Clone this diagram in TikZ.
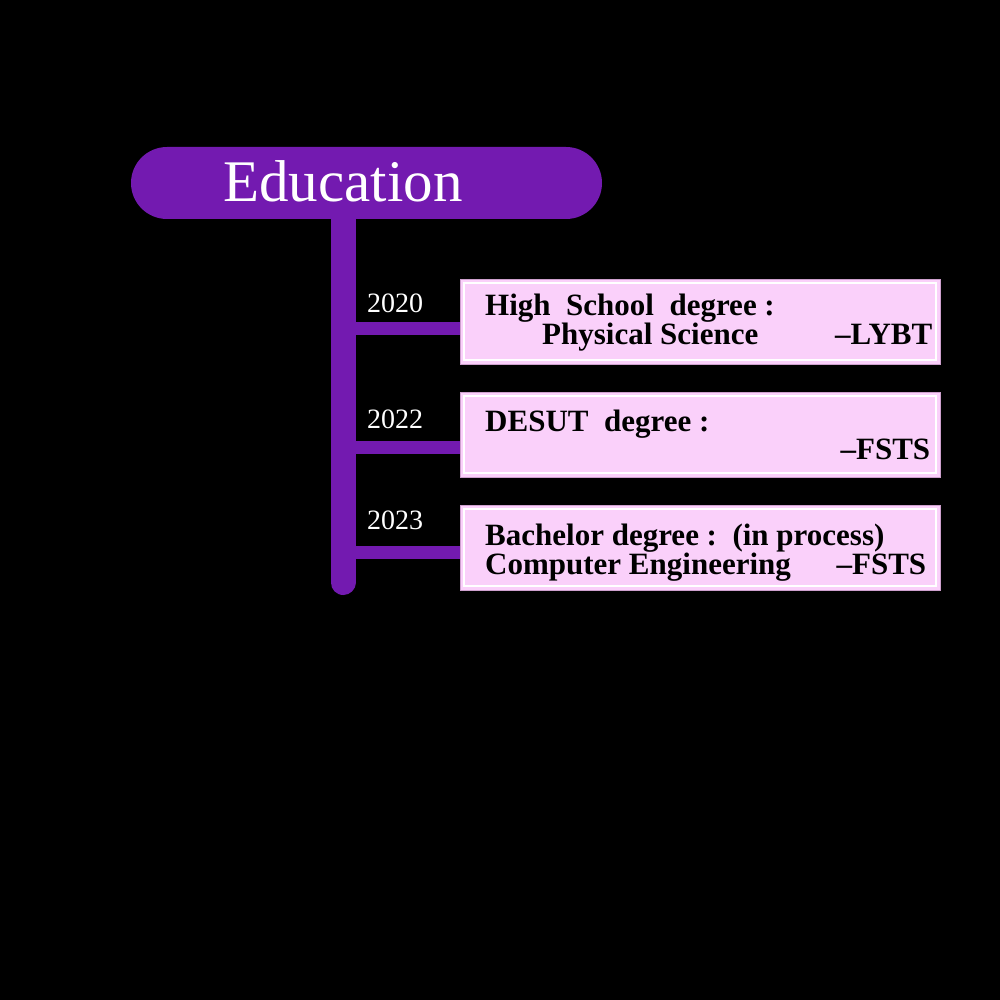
\documentclass[tikz,border=0pt]{standalone}
\usepackage{fontspec}
\setmainfont{Liberation Serif}
\definecolor{edupurple}{RGB}{115,26,176}
\definecolor{edupink}{RGB}{250,208,250}
\definecolor{edurim}{RGB}{205,160,205}
\begin{document}
\begin{tikzpicture}[x=1pt,y=-1pt,
  pill/.style={fill=edupurple, rounded corners=36pt, minimum width=471pt, minimum height=72pt, inner sep=0pt},
  entrybox/.style={fill=edupink, draw=edurim, line width=0.8pt, minimum width=480pt, minimum height=85pt, inner sep=0pt},
  spine/.style={edupurple, line width=25pt, line cap=round},
  branch/.style={edupurple, line width=13pt},
  yeartext/.style={text=white, anchor=base west, inner sep=0pt, font=\fontsize{28}{28}\selectfont},
  boxtext/.style={text=black, inner sep=0pt, align=left, anchor=base west, font=\bfseries\fontsize{31}{27}\selectfont},
  innerline/.style={white, line width=2pt}]
\fill[black] (0,0) rectangle (1000,1000);
\useasboundingbox (0,0) rectangle (1000,1000);
% spine
\coordinate (top) at (343,200);
\coordinate (bot) at (343,582.5);
\draw[spine] (top) -- (bot);
% header
\node[pill] (edu) at (366.5,183) {};
\node[text=white, anchor=base, inner sep=0pt, font=\fontsize{59}{59}\selectfont] (edut) at (343,202) {Education};
% boxes
\node[entrybox] (b1) at (700,321.5) {};
\node[entrybox] (b2) at (700,434.5) {};
\node[entrybox] (b3) at (700,547.5) {};
\foreach \b in {b1,b2,b3}{
  \draw[innerline] ([shift={(4pt,-4pt)}]\b.north west) rectangle ([shift={(-4pt,4pt)}]\b.south east);
}
% branches
\coordinate (s1) at (343,328);
\coordinate (s2) at (343,447);
\coordinate (s3) at (343,552);
\draw[branch] (s1) -- (s1 -| b1.west);
\draw[branch] (s2) -- (s2 -| b2.west);
\draw[branch] (s3) -- (s3 -| b3.west);
% years
\node[yeartext] (y1) at (367,312) {2020};
\node[yeartext] (y2) at (367,428) {2022};
\node[yeartext] (y3) at (367,529) {2023};
% box texts
\node[boxtext, text width=447pt] (t1) at (485,315) {\spaceskip=0pt\xspaceskip=0pt\relax\mbox{High\ \ School\ \ degree :}\\\mbox{\hspace*{57pt}Physical Science}\hfill\mbox{\textendash LYBT}};
\node[boxtext, text width=445pt] (t2) at (485,431) {\spaceskip=0pt\xspaceskip=0pt\relax\mbox{DESUT\ \ degree :}\\\mbox{}\hfill\mbox{\textendash FSTS}};
\node[boxtext, text width=441pt] (t3) at (485,545) {\spaceskip=0pt\xspaceskip=0pt\relax\mbox{Bachelor degree :\ \ (in process)}\\\mbox{Computer Engineering}\hfill\mbox{\textendash FSTS}};
\end{tikzpicture}
\end{document}
